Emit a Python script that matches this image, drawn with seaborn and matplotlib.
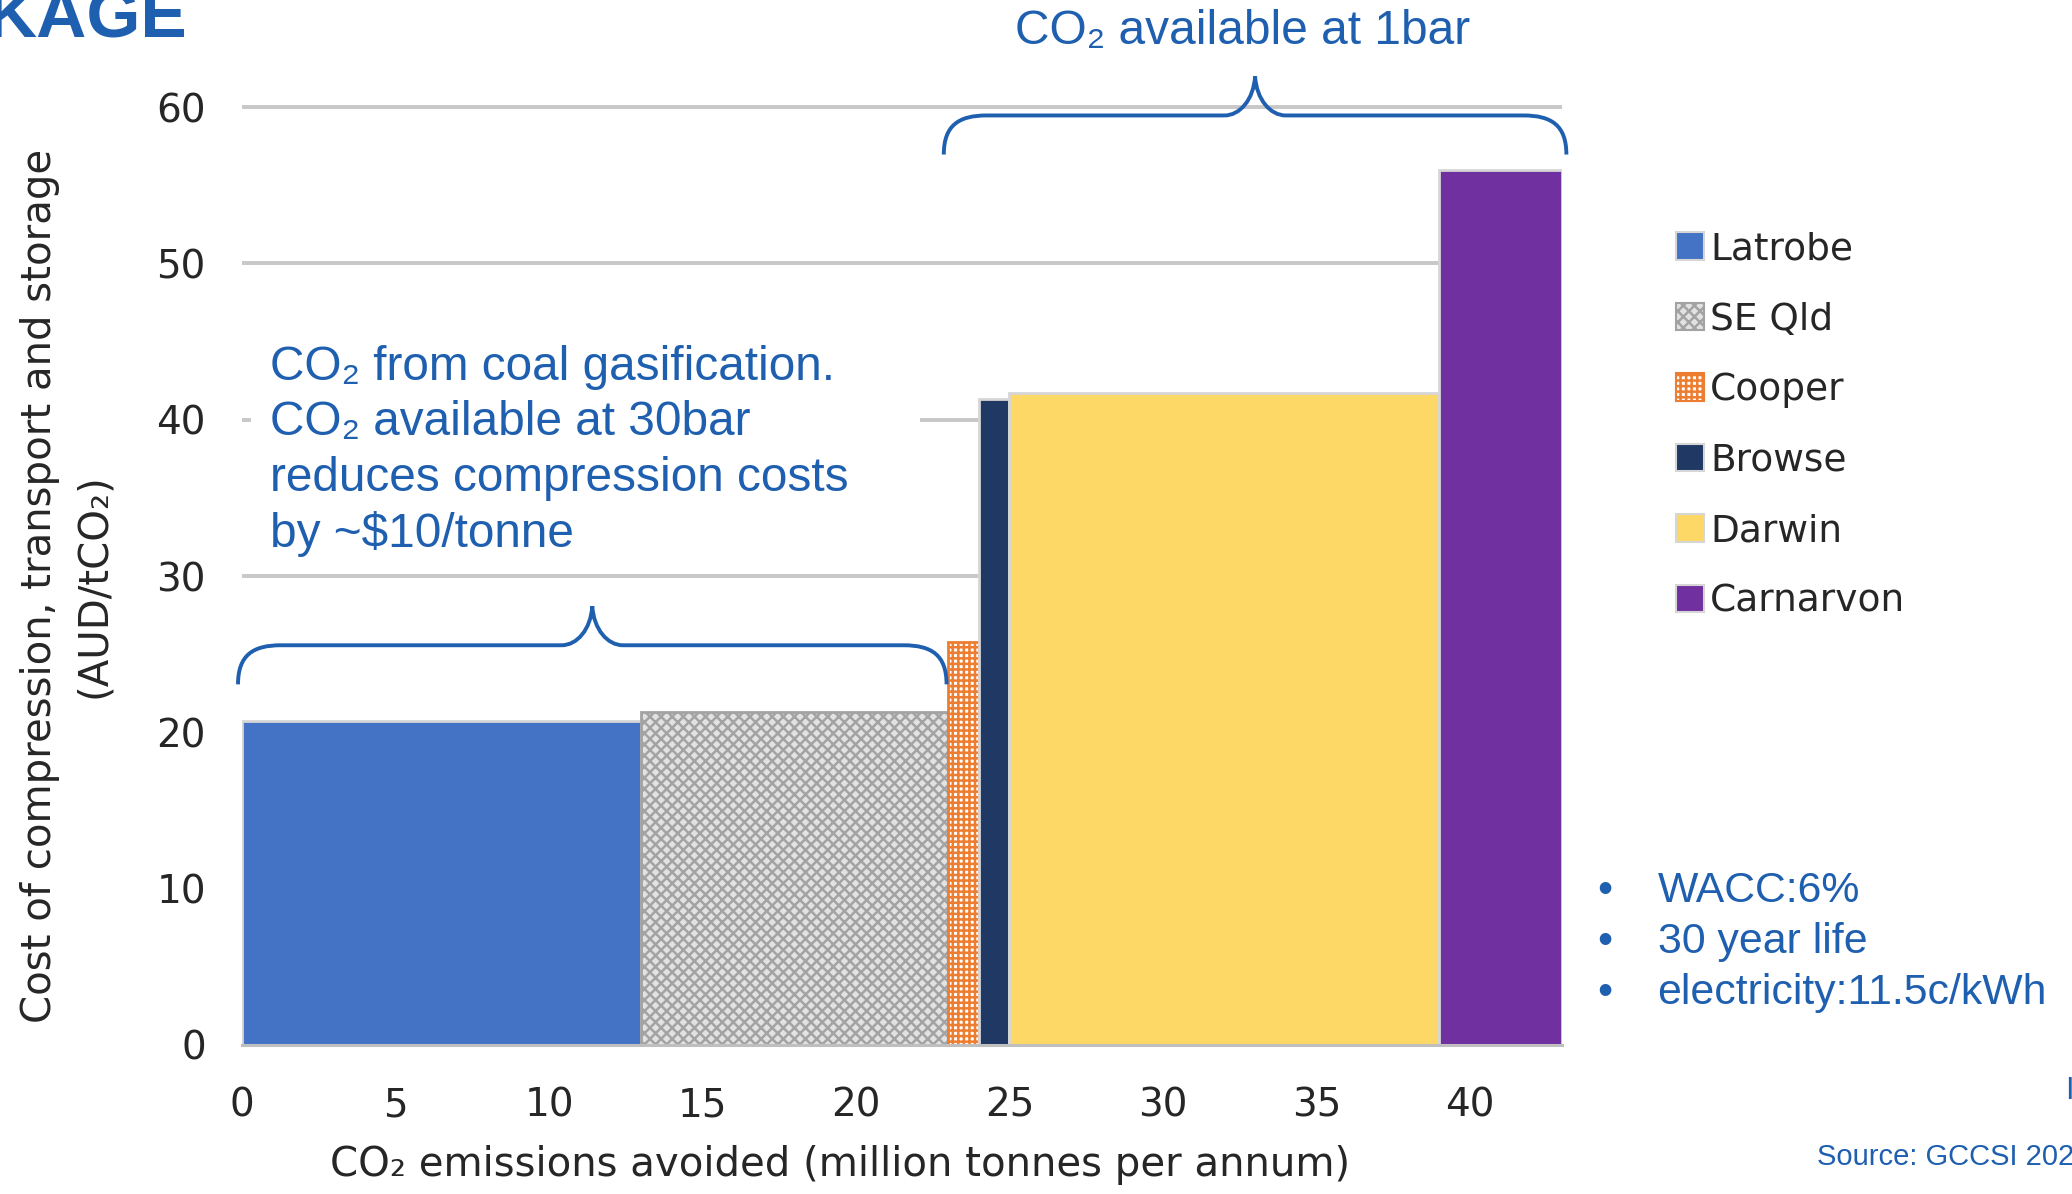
import matplotlib
matplotlib.use("Agg")
import matplotlib.pyplot as plt
import seaborn as sns
import numpy as np
import pandas as pd
from matplotlib.patches import Patch, Rectangle, PathPatch
from matplotlib.path import Path

# data
sites = ["Latrobe", "SE Qld", "Cooper", "Browse", "Darwin", "Carnarvon"]
volumes = [13, 10, 1, 1, 14, 4]            # Mtpa avoided (bar widths)
costs = [20.7, 21.3, 25.8, 41.3, 41.7, 56.0]  # AUD/tCO2
colors = ["#4472c4", "#a3a3a3", "#ed7d31", "#203864", "#fdd866", "#7030a0"]
fills = ["#4472c4", "#e2e2e2", "#ffffff", "#203864", "#fdd866", "#7030a0"]
hatches = [None, "xxx", "+++", None, None, None]
x_ticks = [0, 5, 10, 15, 20, 25, 30, 35, 40]
y_ticks = [0, 10, 20, 30, 40, 50, 60]
notes = ["WACC:6%", "30 year life", "electricity:11.5c/kWh"]

BLUE = "#1f5faf"
GRID = "#c8c8c8"
ARIAL = ["Liberation Sans", "DejaVu Sans"]

sns.set_style("white")
plt.rcParams["font.family"] = ["DejaVu Sans"]
plt.rcParams["hatch.linewidth"] = 1.8

edges = np.concatenate([[0], np.cumsum(volumes)])
df = pd.DataFrame({"site": sites, "left": edges[:-1], "right": edges[1:], "cost": costs})
df["mid"] = (df["left"] + df["right"]) / 2

fig = plt.figure(figsize=(20.72, 11.94), dpi=100)
ax = fig.add_axes([0.1168, 0.1248, 0.6371, 0.7895])

for i, row in df.iterrows():
    hatched = hatches[i] is not None
    sns.histplot(x=[row["mid"]], weights=[row["cost"]], bins=[row["left"], row["right"]],
                 color=fills[i], alpha=1,
                 edgecolor=colors[i] if hatched else "#d6d6d6", linewidth=2, ax=ax)
    if hatched:
        ax.patches[-1].set_hatch(hatches[i])

ax.set_xlim(0, 43)
ax.set_ylim(0, 60.3)
ax.set_xticks(x_ticks)
ax.set_yticks(y_ticks)
ax.set_axisbelow(True)
ax.yaxis.grid(True, color=GRID, linewidth=2.8)
ax.xaxis.grid(False)
for s in ["left", "right", "top"]:
    ax.spines[s].set_visible(False)
ax.spines["bottom"].set_color("#bfbfbf")
ax.spines["bottom"].set_linewidth(2.2)
ax.tick_params(axis="x", length=8.6, width=2, color="#bfbfbf", pad=21, labelsize=28)
ax.tick_params(axis="y", length=0, pad=26, labelsize=28)

ax.set_xlabel("CO₂ emissions avoided (million tonnes per annum)", fontsize=29)
ax.xaxis.set_label_coords(0.453, -0.106)
ax.set_ylabel("Cost of compression, transport and storage\n(AUD/tCO₂)", fontsize=29, linespacing=1.45)
ax.yaxis.set_label_coords(-0.097, 0.487)

# white box behind the left note
ax.add_patch(Rectangle((0.3, 31.5), 21.8, 15.5, facecolor="white", edgecolor="none", zorder=1.5))
ax.text(0.9, 38.0, "CO₂ from coal gasification.\nCO₂ available at 30bar\nreduces compression costs\nby ~$10/tonne",
        ha="left", va="center", fontsize=34.4, color=BLUE, family=ARIAL, linespacing=1.3, zorder=3)


def curly_brace(ax, x0, x1, y0, arm=2.5, tip=2.5, cw=1.4, tw=1.0):
    xm = (x0 + x1) / 2
    ya = y0 + arm
    verts = [(x0, y0),
             (x0, y0 + arm * 0.75), (x0 + cw * 0.35, ya), (x0 + cw, ya),
             (xm - tw, ya),
             (xm - tw * 0.5, ya), (xm - tw * 0.05, ya + tip * 0.4), (xm, ya + tip),
             (xm + tw * 0.05, ya + tip * 0.4), (xm + tw * 0.5, ya), (xm + tw, ya),
             (x1 - cw, ya),
             (x1 - cw * 0.35, ya), (x1, y0 + arm * 0.75), (x1, y0)]
    codes = [Path.MOVETO] + [Path.CURVE4] * 3 + [Path.LINETO] + [Path.CURVE4] * 6 + \
            [Path.LINETO] + [Path.CURVE4] * 3
    ax.add_patch(PathPatch(Path(verts, codes), facecolor="none", edgecolor=BLUE,
                           linewidth=2.8, clip_on=False, zorder=4))


curly_brace(ax, edges[0] - 0.13, edges[2] - 0.05, 23.07)
curly_brace(ax, edges[2] - 0.14, edges[-1] + 0.14, 56.96)

fig.text(0.5995, 0.974, "CO₂ available at 1bar", ha="center", va="center",
         fontsize=34.5, color=BLUE, family=ARIAL)

# legend
handles = [Patch(facecolor=f, edgecolor=c if h else "#d6d6d6", hatch=h, linewidth=1.5)
           for c, f, h in zip(colors, fills, hatches)]
fig.legend(handles, sites, loc="upper left", bbox_to_anchor=(0.8, 0.822), frameon=False,
           fontsize=27, handlelength=0.75, handleheight=0.75, handletextpad=0.15,
           labelspacing=0.92, borderpad=0)

# assumptions
for k, note in enumerate(notes):
    y = 0.2446 - k * 0.0428
    fig.text(0.7746, y, "•", ha="center", va="baseline", fontsize=30.8, color=BLUE, family=ARIAL)
    fig.text(0.800, y, note, ha="left", va="baseline", fontsize=30.8, color=BLUE, family=ARIAL)

fig.text(0.877, 0.0243, "Source: GCCSI 2021", ha="left", va="baseline", fontsize=21,
         color=BLUE, family=ARIAL)
fig.text(0.9966, 0.0863, "I", ha="left", va="center", fontsize=22, color=BLUE, family=ARIAL)
fig.text(0.0903, 0.969, "KAGE", ha="right", va="baseline", fontsize=50,
         weight="bold", color=BLUE, family=ARIAL)

fig.savefig("out.png", dpi=100)
